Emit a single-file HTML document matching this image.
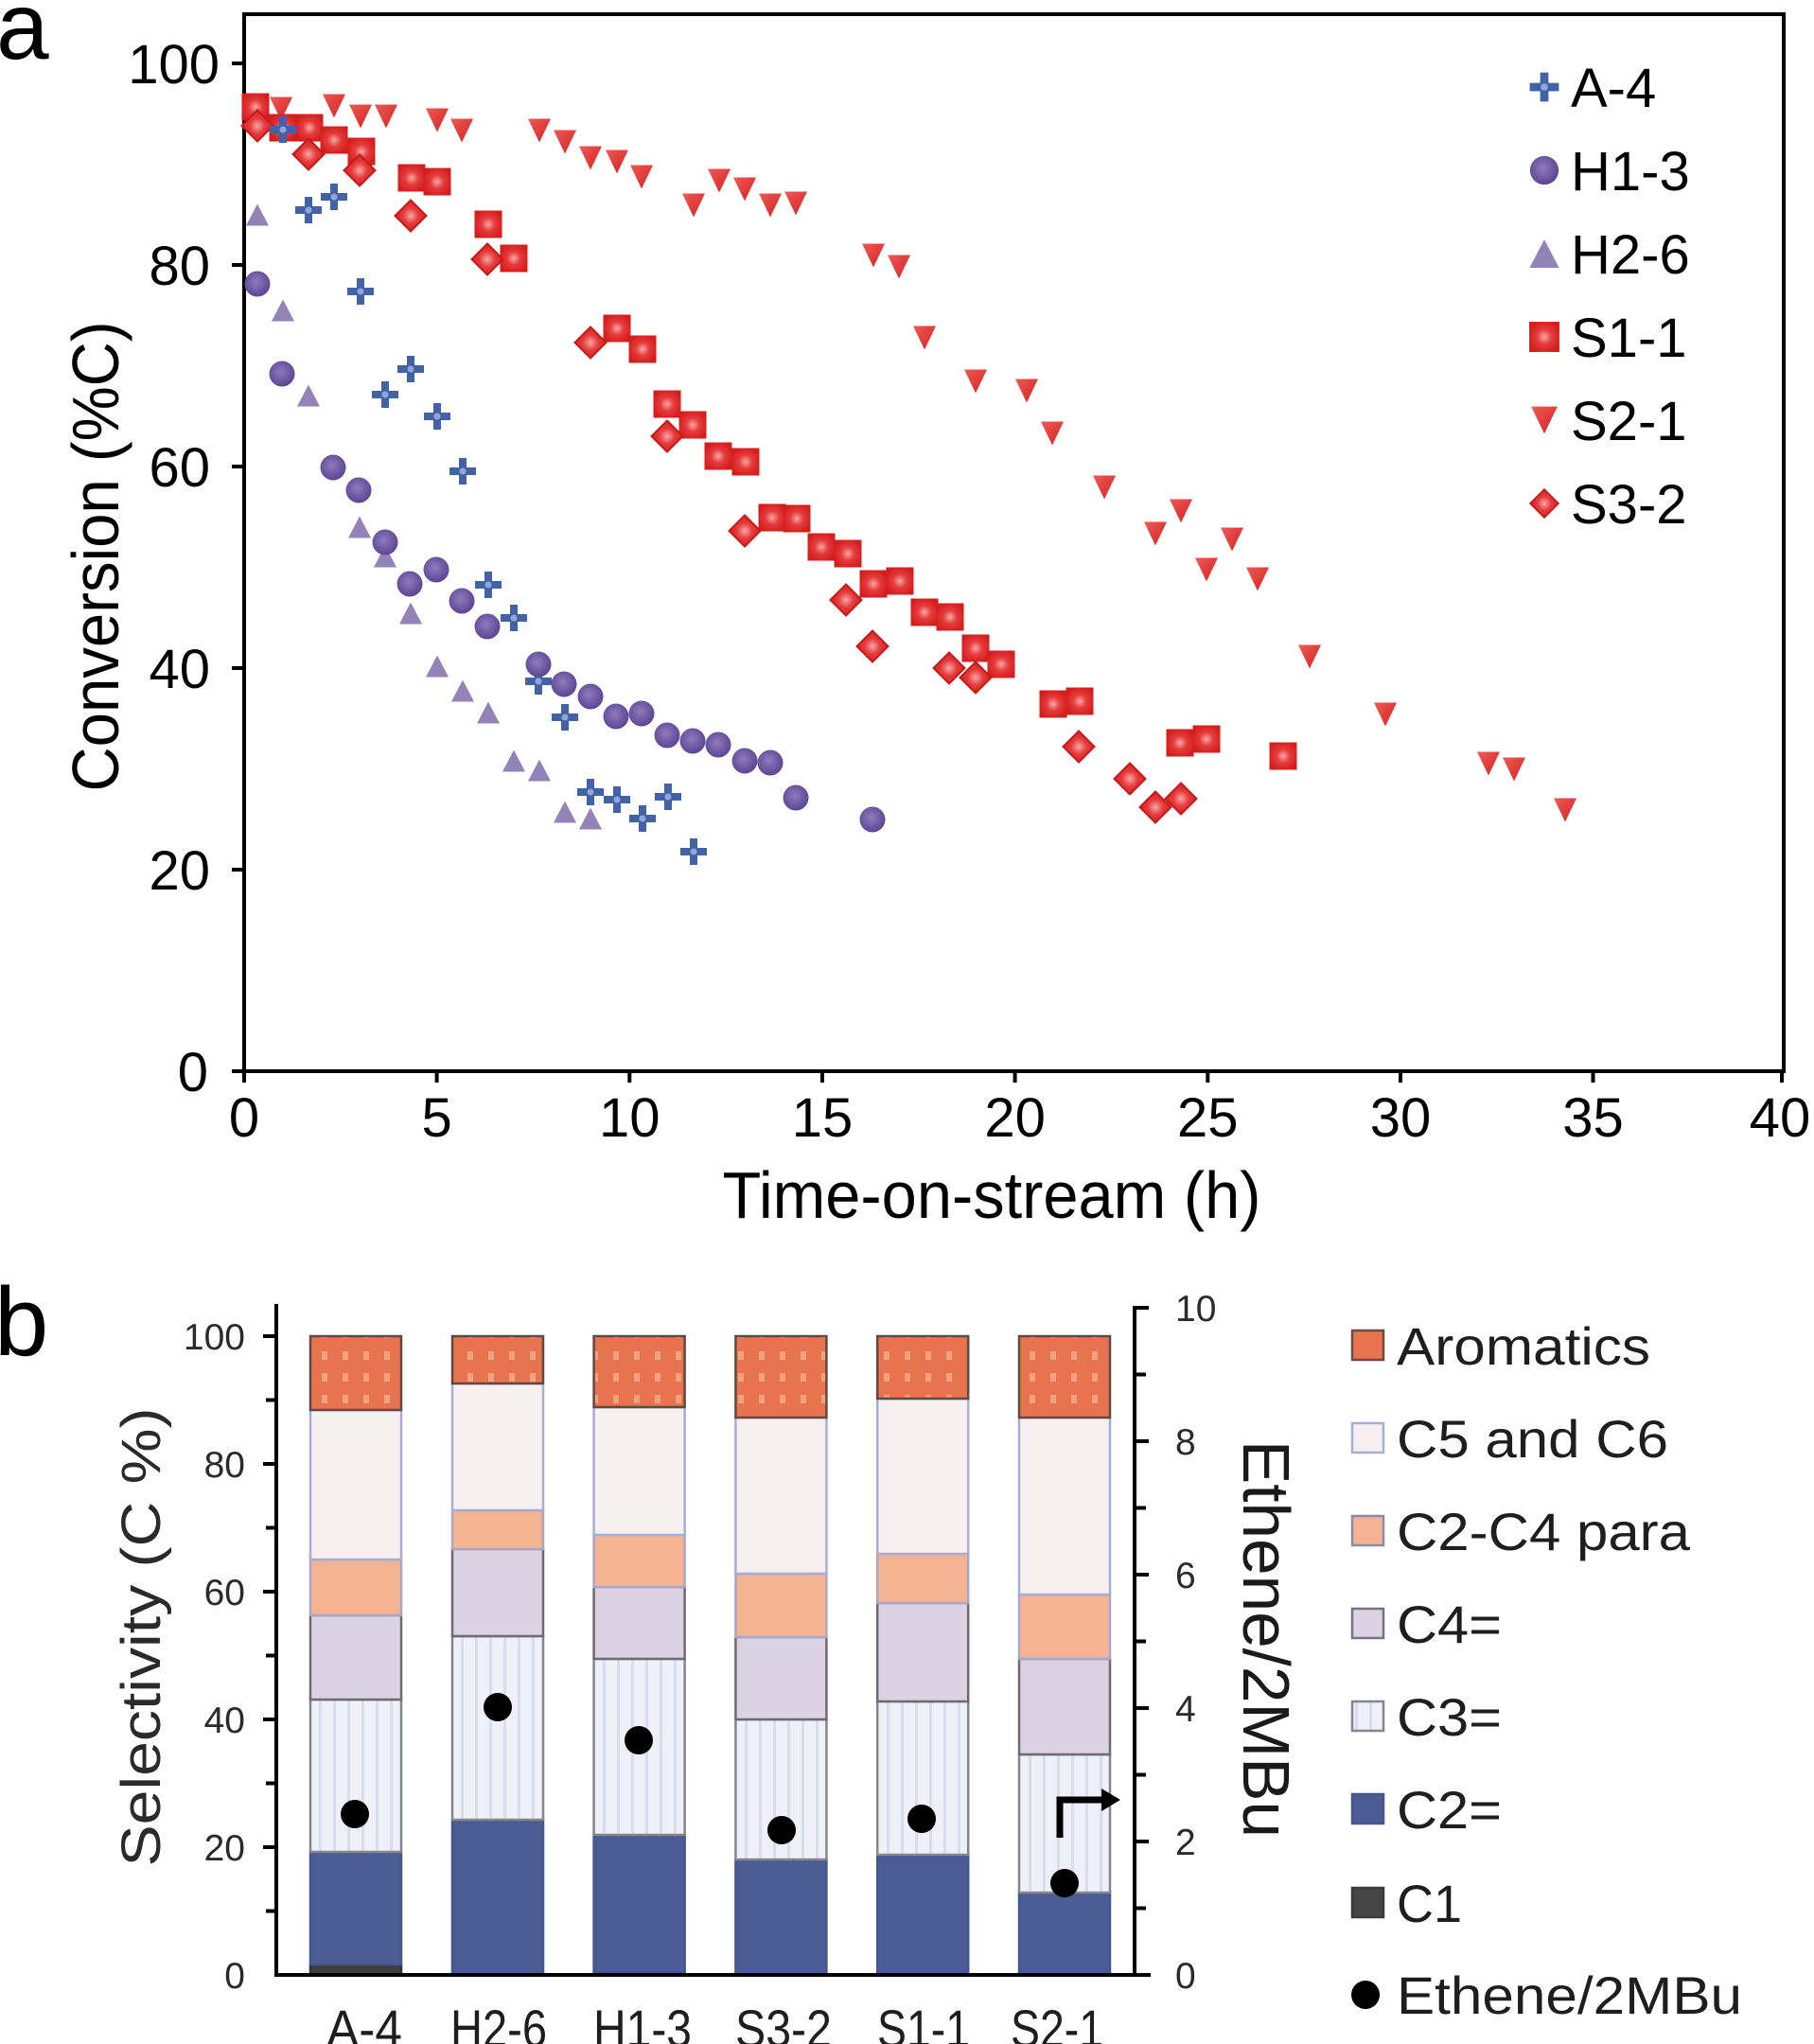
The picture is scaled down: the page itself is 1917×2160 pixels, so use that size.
<!DOCTYPE html>
<html><head><meta charset="utf-8"><style>
html,body{margin:0;padding:0;background:#fff;}
svg{display:block;}
text{font-family:"Liberation Sans",Arial,sans-serif;}
</style></head><body>
<svg xmlns="http://www.w3.org/2000/svg" width="1917" height="2160" viewBox="0 0 1917 2160">
<defs>
<radialGradient id="rg" cx="50%" cy="50%" r="55%"><stop offset="0" stop-color="#f7a7a7"/><stop offset="0.45" stop-color="#e63b3b"/><stop offset="1" stop-color="#d41d1d"/></radialGradient>
<linearGradient id="lgR" x1="0" y1="0" x2="1" y2="1"><stop offset="0" stop-color="#ee5a55"/><stop offset="1" stop-color="#d42222"/></linearGradient>
<radialGradient id="rgP" cx="45%" cy="42%" r="60%"><stop offset="0" stop-color="#8f7bbd"/><stop offset="1" stop-color="#5a4292"/></radialGradient>
<rect id="sq" x="-14.5" y="-14.5" width="29" height="29" fill="url(#rg)"/>
<path id="dt" d="M-12,-12.5 L12,-12.5 L0,12.5 Z" fill="url(#lgR)"/>
<path id="dm" d="M0,-16.5 L16.5,0 L0,16.5 L-16.5,0 Z" fill="url(#rg)" stroke="#c41a1a" stroke-width="2"/>
<path id="ut" d="M0,-11.5 L12,11.5 L-12,11.5 Z" fill="#9383b9"/>
<g id="pl"><path d="M-4,-14 H4 V-4 H14 V4 H4 V14 H-4 V4 H-14 V-4 H-4 Z" fill="#4262a8"/><circle r="3.5" fill="#8ea7d6"/></g>
<circle id="ci" r="13.5" fill="url(#rgP)"/>
<pattern id="aro" patternUnits="userSpaceOnUse" x="2" y="1421" width="22" height="23">
<rect width="22" height="23" fill="#e8734f"/><rect x="8" y="7" width="6" height="9" fill="#f3a281"/>
</pattern>
<pattern id="c3p" patternUnits="userSpaceOnUse" x="0" y="0" width="15" height="20">
<rect width="15" height="20" fill="#eff0f8"/><rect x="7" width="3" height="20" fill="#d9ddef"/>
</pattern>
</defs>

<!-- ================= PANEL A ================= -->
<text x="-4" y="62" font-size="100">a</text>

<rect x="258" y="15" width="1627" height="1117" fill="none" stroke="#000" stroke-width="4"/>
<g stroke="#000" stroke-width="4">
<line x1="245" y1="1132" x2="258" y2="1132"/>
<line x1="245" y1="919" x2="258" y2="919"/>
<line x1="245" y1="706" x2="258" y2="706"/>
<line x1="245" y1="493" x2="258" y2="493"/>
<line x1="245" y1="280" x2="258" y2="280"/>
<line x1="245" y1="67" x2="258" y2="67"/>
<line x1="258" y1="1132" x2="258" y2="1144"/>
<line x1="461.6" y1="1132" x2="461.6" y2="1144"/>
<line x1="665.3" y1="1132" x2="665.3" y2="1144"/>
<line x1="869" y1="1132" x2="869" y2="1144"/>
<line x1="1072.6" y1="1132" x2="1072.6" y2="1144"/>
<line x1="1276.3" y1="1132" x2="1276.3" y2="1144"/>
<line x1="1480" y1="1132" x2="1480" y2="1144"/>
<line x1="1683.5" y1="1132" x2="1683.5" y2="1144"/>
<line x1="1883" y1="1132" x2="1883" y2="1144"/>
</g>
<g font-size="58" text-anchor="end" fill="#000">
<text x="220" y="1153">0</text>
<text x="222" y="940">20</text>
<text x="222" y="727">40</text>
<text x="222" y="514">60</text>
<text x="222" y="301">80</text>
<text x="232" y="88">100</text>
</g>
<g font-size="58" text-anchor="middle" fill="#000">
<text x="258" y="1201">0</text>
<text x="461.6" y="1201">5</text>
<text x="665.3" y="1201">10</text>
<text x="869" y="1201">15</text>
<text x="1072.6" y="1201">20</text>
<text x="1276.3" y="1201">25</text>
<text x="1480" y="1201">30</text>
<text x="1683.5" y="1201">35</text>
<text x="1881" y="1201">40</text>
</g>
<text x="1048" y="1287" font-size="70" text-anchor="middle" textLength="569" lengthAdjust="spacingAndGlyphs">Time-on-stream (h)</text>
<text transform="translate(125,588) rotate(-90)" font-size="70" text-anchor="middle" textLength="497" lengthAdjust="spacingAndGlyphs">Conversion (%C)</text>

<g>
<use href="#dt" x="271" y="118"/><use href="#dt" x="297" y="115"/><use href="#dt" x="353" y="112"/><use href="#dt" x="381" y="123"/><use href="#dt" x="408" y="123"/><use href="#dt" x="462" y="127"/><use href="#dt" x="488" y="138"/><use href="#dt" x="570" y="138"/><use href="#dt" x="597" y="150"/><use href="#dt" x="624" y="167"/><use href="#dt" x="652" y="171"/><use href="#dt" x="678" y="187"/><use href="#dt" x="733" y="217"/><use href="#dt" x="760" y="191"/><use href="#dt" x="787" y="200"/><use href="#dt" x="814" y="217"/><use href="#dt" x="841" y="215"/><use href="#dt" x="923" y="270"/><use href="#dt" x="950" y="282"/><use href="#dt" x="977" y="357"/><use href="#dt" x="1031" y="403"/><use href="#dt" x="1085" y="413"/><use href="#dt" x="1112" y="458"/><use href="#dt" x="1167" y="515"/><use href="#dt" x="1221" y="564"/><use href="#dt" x="1248" y="540"/><use href="#dt" x="1275" y="602"/><use href="#dt" x="1302" y="570"/><use href="#dt" x="1329" y="612"/><use href="#dt" x="1384" y="694"/><use href="#dt" x="1464" y="755"/><use href="#dt" x="1573" y="807"/><use href="#dt" x="1600" y="813"/><use href="#dt" x="1654" y="856"/>
</g>
<g>
<use href="#sq" x="270" y="113"/><use href="#sq" x="299" y="135"/><use href="#sq" x="327" y="135"/><use href="#sq" x="353" y="148"/><use href="#sq" x="382" y="160"/><use href="#sq" x="435" y="188"/><use href="#sq" x="462" y="192"/><use href="#sq" x="516" y="237"/><use href="#sq" x="543" y="273"/><use href="#sq" x="652" y="347"/><use href="#sq" x="679" y="369"/><use href="#sq" x="705" y="427"/><use href="#sq" x="732" y="449"/><use href="#sq" x="759" y="482"/><use href="#sq" x="788" y="488"/><use href="#sq" x="816" y="547"/><use href="#sq" x="842" y="548"/><use href="#sq" x="868" y="578"/><use href="#sq" x="896" y="585"/><use href="#sq" x="923" y="617"/><use href="#sq" x="951" y="614"/><use href="#sq" x="977" y="647"/><use href="#sq" x="1004" y="652"/><use href="#sq" x="1031" y="685"/><use href="#sq" x="1058" y="702"/><use href="#sq" x="1113" y="744"/><use href="#sq" x="1141" y="741"/><use href="#sq" x="1247" y="785"/><use href="#sq" x="1275" y="781"/><use href="#sq" x="1356" y="799"/>
</g>
<g>
<use href="#dm" x="272" y="133"/><use href="#dm" x="326" y="163"/><use href="#dm" x="380" y="180"/><use href="#dm" x="434" y="228"/><use href="#dm" x="515" y="274"/><use href="#dm" x="624" y="362"/><use href="#dm" x="705" y="461"/><use href="#dm" x="787" y="561"/><use href="#dm" x="894" y="634"/><use href="#dm" x="922" y="683"/><use href="#dm" x="1003" y="706"/><use href="#dm" x="1031" y="716"/><use href="#dm" x="1140" y="789"/><use href="#dm" x="1194" y="823"/><use href="#dm" x="1221" y="853"/><use href="#dm" x="1248" y="844"/>
</g>
<g>
<use href="#ut" x="272" y="227"/><use href="#ut" x="299" y="328"/><use href="#ut" x="326" y="418"/><use href="#ut" x="380" y="557"/><use href="#ut" x="407" y="588"/><use href="#ut" x="434" y="648"/><use href="#ut" x="462" y="704"/><use href="#ut" x="489" y="730"/><use href="#ut" x="516" y="753"/><use href="#ut" x="543" y="804"/><use href="#ut" x="570" y="814"/><use href="#ut" x="597" y="858"/><use href="#ut" x="624" y="865"/>
</g>
<g>
<use href="#pl" x="299" y="137"/><use href="#pl" x="326" y="222"/><use href="#pl" x="353" y="208"/><use href="#pl" x="381" y="308"/><use href="#pl" x="407" y="417"/><use href="#pl" x="434" y="390"/><use href="#pl" x="462" y="440"/><use href="#pl" x="489" y="498"/><use href="#pl" x="516" y="618"/><use href="#pl" x="543" y="653"/><use href="#pl" x="569" y="720"/><use href="#pl" x="597" y="758"/><use href="#pl" x="624" y="837"/><use href="#pl" x="652" y="845"/><use href="#pl" x="679" y="865"/><use href="#pl" x="706" y="842"/><use href="#pl" x="733" y="900"/>
</g>
<g>
<use href="#ci" x="272" y="300"/><use href="#ci" x="298" y="395"/><use href="#ci" x="352" y="494"/><use href="#ci" x="379" y="518"/><use href="#ci" x="407" y="573"/><use href="#ci" x="433" y="617"/><use href="#ci" x="461" y="602"/><use href="#ci" x="488" y="635"/><use href="#ci" x="515" y="662"/><use href="#ci" x="569" y="702"/><use href="#ci" x="596" y="723"/><use href="#ci" x="624" y="736"/><use href="#ci" x="651" y="757"/><use href="#ci" x="678" y="754"/><use href="#ci" x="705" y="777"/><use href="#ci" x="732" y="783"/><use href="#ci" x="759" y="787"/><use href="#ci" x="787" y="804"/><use href="#ci" x="814" y="806"/><use href="#ci" x="841" y="843"/><use href="#ci" x="922" y="866"/>
</g>

<g transform="translate(1632,92) scale(1.1)"><use href="#pl"/></g>
<g transform="translate(1632,180) scale(1.12)"><use href="#ci"/></g>
<g transform="translate(1632,268) scale(1.3)"><use href="#ut"/></g>
<g transform="translate(1632,356) scale(1.1)"><use href="#sq"/></g>
<g transform="translate(1632,444) scale(1.15)"><use href="#dt"/></g>
<g transform="translate(1632,532) scale(0.9)"><use href="#dm"/></g>
<g font-size="58" fill="#000">
<text x="1660" y="113">A-4</text>
<text x="1660" y="201">H1-3</text>
<text x="1660" y="289">H2-6</text>
<text x="1660" y="377">S1-1</text>
<text x="1660" y="465">S2-1</text>
<text x="1660" y="553">S3-2</text>
</g>

<!-- ================= PANEL B ================= -->
<text x="-6" y="1432" font-size="103">b</text>

<g stroke-width="2.5">
<rect x="328" y="2076" width="96" height="11" fill="#3d3d3d" stroke="#333"/>
<rect x="328" y="1957" width="96" height="119" fill="#4b5b94" stroke="#45558e"/>
<rect x="328" y="1796" width="96" height="161" fill="url(#c3p)" stroke="#85858c"/>
<rect x="328" y="1707" width="96" height="89" fill="#ddd1e4" stroke="#6d6a72"/>
<rect x="328" y="1648" width="96" height="59" fill="#f4b393" stroke="#a9a7c9"/>
<rect x="328" y="1490" width="96" height="158" fill="#f8eff1" stroke="#a6aed6"/>
<rect x="328" y="1412" width="96" height="78" fill="url(#aro)" stroke="#5e4a44"/>
<rect x="478" y="1923" width="96" height="164" fill="#4b5b94" stroke="#45558e"/>
<rect x="478" y="1729" width="96" height="194" fill="url(#c3p)" stroke="#85858c"/>
<rect x="478" y="1637" width="96" height="92" fill="#ddd1e4" stroke="#6d6a72"/>
<rect x="478" y="1596" width="96" height="41" fill="#f4b393" stroke="#a9a7c9"/>
<rect x="478" y="1462" width="96" height="134" fill="#f8eff1" stroke="#a6aed6"/>
<rect x="478" y="1412" width="96" height="50" fill="url(#aro)" stroke="#5e4a44"/>
<rect x="627.6" y="2084" width="96" height="3" fill="#3d3d3d" stroke="#333"/>
<rect x="627.6" y="1939" width="96" height="145" fill="#4b5b94" stroke="#45558e"/>
<rect x="627.6" y="1753" width="96" height="186" fill="url(#c3p)" stroke="#85858c"/>
<rect x="627.6" y="1677" width="96" height="76" fill="#ddd1e4" stroke="#6d6a72"/>
<rect x="627.6" y="1622" width="96" height="55" fill="#f4b393" stroke="#a9a7c9"/>
<rect x="627.6" y="1487" width="96" height="135" fill="#f8eff1" stroke="#a6aed6"/>
<rect x="627.6" y="1412" width="96" height="75" fill="url(#aro)" stroke="#5e4a44"/>
<rect x="777.4" y="1965" width="96" height="122" fill="#4b5b94" stroke="#45558e"/>
<rect x="777.4" y="1817" width="96" height="148" fill="url(#c3p)" stroke="#85858c"/>
<rect x="777.4" y="1730" width="96" height="87" fill="#ddd1e4" stroke="#6d6a72"/>
<rect x="777.4" y="1663" width="96" height="67" fill="#f4b393" stroke="#a9a7c9"/>
<rect x="777.4" y="1498" width="96" height="165" fill="#f8eff1" stroke="#a6aed6"/>
<rect x="777.4" y="1412" width="96" height="86" fill="url(#aro)" stroke="#5e4a44"/>
<rect x="927.2" y="1960" width="96" height="127" fill="#4b5b94" stroke="#45558e"/>
<rect x="927.2" y="1798" width="96" height="162" fill="url(#c3p)" stroke="#85858c"/>
<rect x="927.2" y="1694" width="96" height="104" fill="#ddd1e4" stroke="#6d6a72"/>
<rect x="927.2" y="1642" width="96" height="52" fill="#f4b393" stroke="#a9a7c9"/>
<rect x="927.2" y="1478" width="96" height="164" fill="#f8eff1" stroke="#a6aed6"/>
<rect x="927.2" y="1412" width="96" height="66" fill="url(#aro)" stroke="#5e4a44"/>
<rect x="1077" y="2000" width="96" height="87" fill="#4b5b94" stroke="#45558e"/>
<rect x="1077" y="1854" width="96" height="146" fill="url(#c3p)" stroke="#85858c"/>
<rect x="1077" y="1753" width="96" height="101" fill="#ddd1e4" stroke="#6d6a72"/>
<rect x="1077" y="1685" width="96" height="68" fill="#f4b393" stroke="#a9a7c9"/>
<rect x="1077" y="1498" width="96" height="187" fill="#f8eff1" stroke="#a6aed6"/>
<rect x="1077" y="1412" width="96" height="86" fill="url(#aro)" stroke="#5e4a44"/>
</g>

<g fill="#000">
<circle cx="375" cy="1917" r="15"/>
<circle cx="526" cy="1804" r="15"/>
<circle cx="675" cy="1839" r="15"/>
<circle cx="826" cy="1934" r="15"/>
<circle cx="974" cy="1922" r="15"/>
<circle cx="1125" cy="1990" r="15"/>
</g>
<path d="M1120,1942 V1902 H1168" fill="none" stroke="#000" stroke-width="7"/>
<polygon points="1164,1890 1184,1902 1164,1914" fill="#000"/>

<g stroke="#000" stroke-width="4" fill="none">
<line x1="292" y1="1378" x2="292" y2="2089"/>
<line x1="290" y1="2087" x2="1216" y2="2087"/>
<line x1="1199" y1="1380" x2="1199" y2="2089"/>
<line x1="278" y1="1412" x2="292" y2="1412"/>
<line x1="281" y1="1479.5" x2="292" y2="1479.5"/>
<line x1="278" y1="1547" x2="292" y2="1547"/>
<line x1="281" y1="1614.5" x2="292" y2="1614.5"/>
<line x1="278" y1="1682" x2="292" y2="1682"/>
<line x1="281" y1="1749.5" x2="292" y2="1749.5"/>
<line x1="278" y1="1817" x2="292" y2="1817"/>
<line x1="281" y1="1884.5" x2="292" y2="1884.5"/>
<line x1="278" y1="1952" x2="292" y2="1952"/>
<line x1="281" y1="2019.5" x2="292" y2="2019.5"/>
<line x1="1199" y1="1382" x2="1214" y2="1382"/>
<line x1="1199" y1="1452.5" x2="1211" y2="1452.5"/>
<line x1="1199" y1="1523" x2="1214" y2="1523"/>
<line x1="1199" y1="1593.5" x2="1211" y2="1593.5"/>
<line x1="1199" y1="1664" x2="1214" y2="1664"/>
<line x1="1199" y1="1734.5" x2="1211" y2="1734.5"/>
<line x1="1199" y1="1805" x2="1214" y2="1805"/>
<line x1="1199" y1="1875.5" x2="1211" y2="1875.5"/>
<line x1="1199" y1="1946" x2="1214" y2="1946"/>
<line x1="1199" y1="2016.5" x2="1211" y2="2016.5"/>
</g>
<g font-size="39" fill="#2a2a2a" text-anchor="end">
<text x="259" y="1426">100</text>
<text x="259" y="1561">80</text>
<text x="259" y="1696">60</text>
<text x="259" y="1831">40</text>
<text x="259" y="1966">20</text>
<text x="259" y="2101">0</text>
</g>
<g font-size="39" fill="#2a2a2a">
<text x="1242" y="1396">10</text>
<text x="1242" y="1537">8</text>
<text x="1242" y="1678">6</text>
<text x="1242" y="1819">4</text>
<text x="1242" y="1960">2</text>
<text x="1242" y="2101">0</text>
</g>
<text transform="translate(169,1730) rotate(-90)" font-family="'DejaVu Sans',sans-serif" font-size="58" fill="#2a2a2a" text-anchor="middle" textLength="485" lengthAdjust="spacingAndGlyphs">Selectivity (C %)</text>
<text transform="translate(1314,1732) rotate(90)" font-size="70" fill="#1a1a1a" text-anchor="middle" textLength="420" lengthAdjust="spacingAndGlyphs">Ethene/2MBu</text>

<g font-size="56" fill="#1e1e1e" text-anchor="middle">
<text x="385" y="2163" textLength="80" lengthAdjust="spacingAndGlyphs">A-4</text>
<text x="527" y="2163" textLength="102" lengthAdjust="spacingAndGlyphs">H2-6</text>
<text x="679" y="2163" textLength="104" lengthAdjust="spacingAndGlyphs">H1-3</text>
<text x="828" y="2163" textLength="102" lengthAdjust="spacingAndGlyphs">S3-2</text>
<text x="976" y="2163" textLength="98" lengthAdjust="spacingAndGlyphs">S1-1</text>
<text x="1117" y="2163" textLength="98" lengthAdjust="spacingAndGlyphs">S2-1</text>
</g>

<g stroke-width="2.5">
<rect x="1429" y="1406" width="33" height="31" fill="#e8734f" stroke="#6a4c42"/>
<rect x="1429" y="1504" width="33" height="31" fill="#f8eff1" stroke="#a6aed6"/>
<rect x="1429" y="1602" width="33" height="31" fill="#f4b393" stroke="#8c8ca8"/>
<rect x="1429" y="1700" width="33" height="31" fill="#ddd1e4" stroke="#77747c"/>
<rect x="1429" y="1798" width="33" height="31" fill="url(#c3p)" stroke="#85858c"/>
<rect x="1429" y="1896" width="33" height="31" fill="#4b5b94" stroke="#45558e"/>
<rect x="1429" y="1995" width="33" height="31" fill="#454545" stroke="#3a3a3a"/>
</g>
<circle cx="1443" cy="2108" r="15" fill="#000"/>
<g font-size="56" fill="#1e1e1e">
<text x="1476" y="1442" textLength="268" lengthAdjust="spacingAndGlyphs">Aromatics</text>
<text x="1476" y="1540" textLength="287" lengthAdjust="spacingAndGlyphs">C5 and C6</text>
<text x="1476" y="1638" textLength="310" lengthAdjust="spacingAndGlyphs">C2-C4 para</text>
<text x="1476" y="1736" textLength="111" lengthAdjust="spacingAndGlyphs">C4=</text>
<text x="1476" y="1834" textLength="111" lengthAdjust="spacingAndGlyphs">C3=</text>
<text x="1476" y="1932" textLength="111" lengthAdjust="spacingAndGlyphs">C2=</text>
<text x="1476" y="2031" textLength="69" lengthAdjust="spacingAndGlyphs">C1</text>
<text x="1476" y="2128" textLength="365" lengthAdjust="spacingAndGlyphs">Ethene/2MBu</text>
</g>
</svg>
</body></html>
